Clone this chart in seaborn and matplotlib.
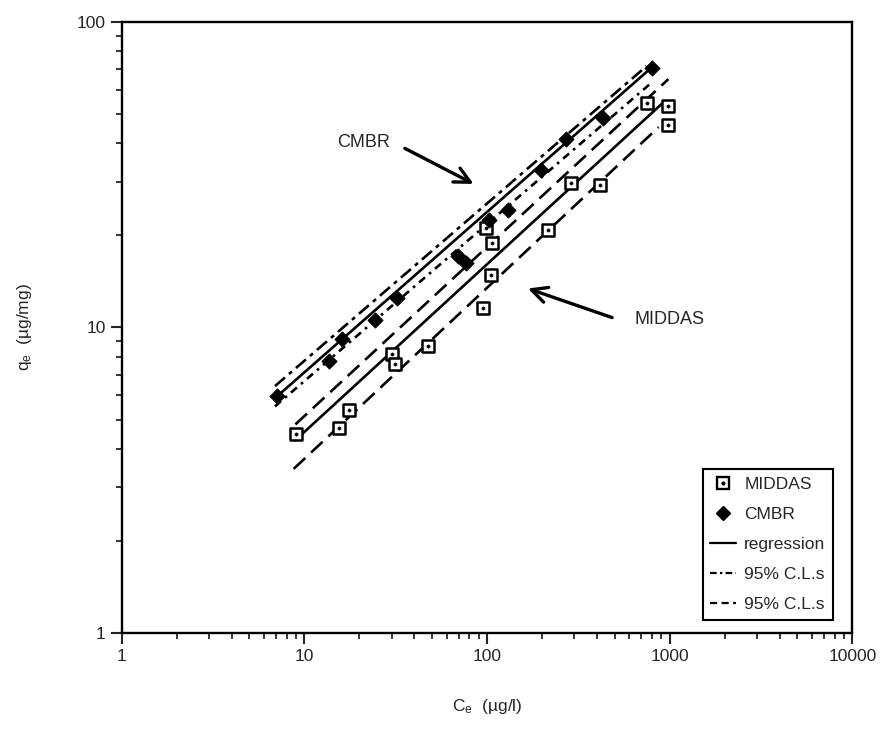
import numpy as np
import pandas as pd
import matplotlib
matplotlib.use('Agg')
import matplotlib.pyplot as plt
import seaborn as sns
from matplotlib.lines import Line2D
from matplotlib.legend_handler import HandlerTuple

sns.set_style('ticks')
plt.rcParams['font.family'] = ['Liberation Sans', 'DejaVu Sans']
plt.rcParams['mathtext.default'] = 'regular'

##############################################################################
# data
##############################################################################
middas_ce = [9.0, 15.4, 17.5, 30.1, 31.3, 47.8, 94.7, 98.8, 105, 107,
             216, 290, 414, 748, 984, 984]
middas_qe = [4.50, 4.68, 5.37, 8.17, 7.57, 8.70, 11.6, 21.1, 14.9, 18.9,
             20.8, 29.6, 29.2, 54.4, 53.1, 45.9]

cmbr_ce = [7.1, 13.6, 16.1, 24.5, 32.0, 69.0, 76.7, 103, 130, 198, 272, 432, 796]
cmbr_qe = [5.96, 7.76, 9.15, 10.6, 12.5, 17.1, 16.3, 22.5, 24.2, 32.7, 41.4, 48.6, 70.8]

# regression lines and 95% confidence limits (end points)
cmbr_fit_ce = [7.1, 796]
cmbr_fit_qe = [5.96, 70.8]
cmbr_upper_ce = [6.9, 748]
cmbr_upper_qe = [6.43, 71.6]
cmbr_lower_ce = [6.9, 796]
cmbr_lower_qe = [5.52, 63.2]

middas_fit_ce = [8.93, 903]
middas_fit_qe = [4.28, 53.8]
middas_upper_ce = [8.93, 984]
middas_upper_qe = [4.82, 64.9]
middas_lower_ce = [8.74, 870]
middas_lower_qe = [3.45, 45.2]

xticks = [1, 10, 100, 1000, 10000]
xtick_labels = ['1', '10', '100', '1000', '10000']
yticks = [1, 10, 100]
ytick_labels = ['1', '10', '100']

legend_labels = ['MIDDAS', 'CMBR', 'regression', '95% C.L.s', '95% C.L.s']

middas = pd.DataFrame({'Ce': middas_ce, 'qe': middas_qe})
cmbr = pd.DataFrame({'Ce': cmbr_ce, 'qe': cmbr_qe})

##############################################################################
# plot
##############################################################################
fig = plt.figure(figsize=(8.86, 7.35), dpi=100)
ax = fig.add_axes([0.1374, 0.1384, 0.8246, 0.8321])
ax.set(xscale='log', yscale='log')

lw = 1.9
dashdot = (0, (5, 2, 1.5, 2))
dashdot2 = (0, (3, 2, 1, 2))
dashed = (0, (6, 3))

line_kwargs = dict(color='black', lw=lw, ax=ax, sort=False, estimator=None, legend=False)
sns.lineplot(x=cmbr_fit_ce, y=cmbr_fit_qe, **line_kwargs)
sns.lineplot(x=cmbr_upper_ce, y=cmbr_upper_qe, linestyle=dashdot, **line_kwargs)
sns.lineplot(x=cmbr_lower_ce, y=cmbr_lower_qe, linestyle=dashdot2, **line_kwargs)
sns.lineplot(x=middas_fit_ce, y=middas_fit_qe, **line_kwargs)
sns.lineplot(x=middas_upper_ce, y=middas_upper_qe, linestyle=dashed, **line_kwargs)
sns.lineplot(x=middas_lower_ce, y=middas_lower_qe, linestyle=dashed, **line_kwargs)

sns.scatterplot(data=middas, x='Ce', y='qe', marker='s', s=80, facecolor='white',
                edgecolor='black', linewidth=1.8, ax=ax, zorder=3)
sns.scatterplot(data=middas, x='Ce', y='qe', marker='o', s=6, color='black',
                edgecolor='black', ax=ax, zorder=4)
sns.scatterplot(data=cmbr, x='Ce', y='qe', marker='D', s=60, color='black',
                edgecolor='black', ax=ax, zorder=3)

ax.set_xlim(1, 10000)
ax.set_ylim(1, 100)
ax.set_xticks(xticks, labels=xtick_labels)
ax.set_yticks(yticks, labels=ytick_labels)
ax.tick_params(which='major', direction='out', length=8, width=1.5, labelsize=12.5,
               top=False, right=False)
ax.tick_params(which='minor', direction='out', length=4.5, width=1.3,
               top=False, right=False)
for s in ax.spines.values():
    s.set_linewidth(1.7)
    s.set_color('black')

ax.set_xlabel('C$_e$  (µg/l)', fontsize=12.5)
ax.set_ylabel('q$_e$  (µg/mg)', fontsize=12.5)
ax.xaxis.set_label_coords(0.5, -0.105)
ax.yaxis.set_label_coords(-0.12, 0.5)

# labels with arrows
arrow = dict(arrowstyle='->', lw=2.4, color='black', mutation_scale=28)
ax.text(21.0, 40.4, 'CMBR', ha='center', va='center', fontsize=13)
ax.annotate('', xy=(87.1, 29.2), xytext=(34.4, 38.9), arrowprops=arrow)
ax.text(993, 10.6, 'MIDDAS', ha='center', va='center', fontsize=13)
ax.annotate('', xy=(162, 13.5), xytext=(500, 10.7), arrowprops=arrow)

# legend (shorter dash units so the pattern shows in a short handle)
h_middas = (Line2D([], [], marker='s', ls='none', mfc='white', mec='black', ms=8, mew=1.7),
            Line2D([], [], marker='o', ls='none', color='black', ms=2))
h_cmbr = Line2D([], [], marker='D', ls='none', color='black', ms=7)
h_reg = Line2D([], [], color='black', lw=1.6)
h_cl1 = Line2D([], [], color='black', lw=1.6, ls=(0, (3, 1.5, 1, 1.5)))
h_cl2 = Line2D([], [], color='black', lw=1.6, ls=(0, (3.2, 2)))
leg = ax.legend([h_middas, h_cmbr, h_reg, h_cl1, h_cl2], legend_labels,
                handler_map={tuple: HandlerTuple(ndivide=1, pad=0)},
                loc='lower right', bbox_to_anchor=(0.974, 0.022), borderaxespad=0,
                frameon=True, fancybox=False, framealpha=1, edgecolor='black',
                fontsize=12.5, handlelength=1.45, handletextpad=0.5,
                labelspacing=0.85, borderpad=0.45)
leg.get_frame().set_linewidth(1.5)

fig.savefig('out.png', dpi=100)
